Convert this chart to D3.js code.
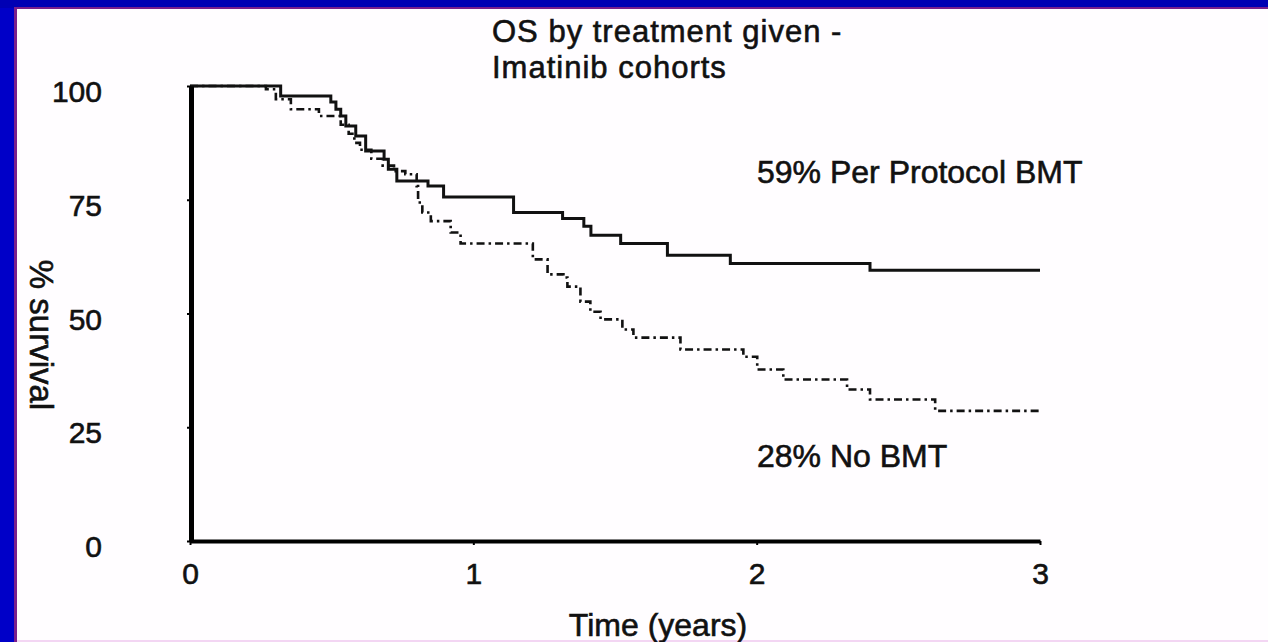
<!DOCTYPE html>
<html>
<head>
<meta charset="utf-8">
<script src="https://cdn.jsdelivr.net/npm/d3@7/dist/d3.min.js"></script>
<style>
  html, body { margin: 0; padding: 0; background: #0000c8; overflow: hidden; }
  svg { display: block; }
  text { font-family: "Liberation Sans", Arial, sans-serif; fill: #111; stroke: #111; stroke-width: 0.6px; }
</style>
</head>
<body>
<svg id="chart" width="1268" height="642"></svg>
<script>
// ---- data ----
const titleLines = ["OS by treatment given -", "Imatinib cohorts"];
const yearTicks = [0, 1, 2, 3];
const survivalTicks = [0, 25, 50, 75, 100];

// Per Protocol BMT (solid)
const bmtTime = [0, 0.32, 0.497, 0.515, 0.532, 0.55, 0.585, 0.62, 0.685, 0.70, 0.73, 0.84, 0.895, 1.142, 1.315, 1.39, 1.415, 1.52, 1.685, 1.907, 2.40, 3.0];
const bmtSurv = [100, 97.8, 96.5, 94.9, 93.4, 91.2, 89.0, 85.7, 83.9, 81.7, 79.1, 78.0, 75.6, 72.2, 70.9, 69.2, 67.2, 65.4, 62.8, 61.0, 59.5, 59.5];

// No BMT (dash-dot)
const noBmtTime = [0, 0.268, 0.303, 0.356, 0.455, 0.532, 0.56, 0.58, 0.60, 0.64, 0.68, 0.72, 0.76, 0.80, 0.805, 0.82, 0.85, 0.92, 0.955, 1.21, 1.262, 1.318, 1.332, 1.378, 1.413, 1.449, 1.526, 1.565, 1.731, 1.953, 2.002, 2.094, 2.319, 2.40, 2.63, 3.0];
const noBmtSurv = [100, 99.3, 97.1, 94.9, 93.4, 91.5, 89.5, 87.5, 86.0, 84.0, 82.5, 81.3, 80.6, 78.0, 74.4, 72.2, 70.3, 67.8, 65.4, 61.9, 58.6, 57.9, 55.9, 52.6, 50.4, 48.7, 46.5, 44.7, 42.1, 40.5, 37.7, 35.5, 33.3, 31.1, 28.6, 28.6];

const seriesLabels = ["59% Per Protocol BMT", "28% No BMT"];
const xTitle = "Time (years)";
const yTitle = "% survival";

// ---- drawing ----
const svg = d3.select("#chart");
const W = 1268, H = 642;

// slide frame
svg.append("rect").attr("x", 0).attr("y", 0).attr("width", W).attr("height", H).attr("fill", "#0000c8");
svg.append("rect").attr("x", 0).attr("y", 0).attr("width", W).attr("height", 8).attr("fill", "#0000b4");
svg.append("rect").attr("x", 14).attr("y", 7).attr("width", W - 14).attr("height", H - 7).attr("fill", "#7a1f8c");
svg.append("rect").attr("x", 17).attr("y", 9).attr("width", W - 17).attr("height", H - 9).attr("fill", "#fffdff");
svg.append("rect").attr("x", 17).attr("y", 640).attr("width", W - 17).attr("height", 2).attr("fill", "#f3d6f3");

const x = d3.scaleLinear().domain([0, 3]).range([190, 1040]);
const y = d3.scaleLinear().domain([0, 100]).range([541, 86]);

// curves
const line = d3.line().x(d => x(d[0])).y(d => y(d[1])).curve(d3.curveStepAfter);
const bmt = bmtTime.map((t, i) => [t, bmtSurv[i]]);
const noBmt = noBmtTime.map((t, i) => [t, noBmtSurv[i]]);

svg.append("path").datum(noBmt).attr("d", line)
  .attr("fill", "none").attr("stroke", "#111").attr("stroke-width", 2.6)
  .attr("stroke-dasharray", "8,4,2.5,4");
svg.append("path").datum(bmt).attr("d", line)
  .attr("fill", "none").attr("stroke", "#111").attr("stroke-width", 3);

// axes
const yAxis = d3.axisLeft(y).tickValues(survivalTicks).tickSize(4).tickSizeOuter(0).tickPadding(85);
const gy = svg.append("g").attr("transform", "translate(191,0)").call(yAxis);
gy.select(".domain").attr("stroke", "#000").attr("stroke-width", 5);
gy.selectAll(".tick line").attr("stroke", "#000").attr("stroke-width", 2);
gy.selectAll(".tick text").attr("font-size", 30).attr("dy", "0.52em")
  .attr("font-family", "'Liberation Sans', Arial, sans-serif").attr("fill", "#111");

const xAxis = d3.axisBottom(x).tickValues(yearTicks).tickSize(4).tickSizeOuter(0).tickPadding(18).tickFormat(d3.format("d"));
const gx = svg.append("g").attr("transform", "translate(0,541)").call(xAxis);
gx.select(".domain").attr("stroke", "#000").attr("stroke-width", 4);
gx.selectAll(".tick line").attr("stroke", "#000").attr("stroke-width", 2);
gx.selectAll(".tick text").attr("font-size", 30)
  .attr("font-family", "'Liberation Sans', Arial, sans-serif").attr("fill", "#111");

// title
svg.append("g").selectAll("text").data(titleLines).join("text")
  .attr("x", 492).attr("y", (d, i) => 42 + i * 36)
  .attr("font-size", 31).attr("letter-spacing", "1px")
  .text(d => d);

// series labels
const labelY = [183, 467];
svg.append("g").selectAll("text").data(seriesLabels).join("text")
  .attr("x", 757).attr("y", (d, i) => labelY[i])
  .attr("font-size", 32)
  .text(d => d);

// axis titles
svg.append("text").attr("x", 658).attr("y", 636).attr("text-anchor", "middle")
  .attr("font-size", 32).text(xTitle);
svg.append("text").attr("transform", "translate(30,335) rotate(90)")
  .attr("text-anchor", "middle").attr("font-size", 33).text(yTitle);
</script>
</body>
</html>
